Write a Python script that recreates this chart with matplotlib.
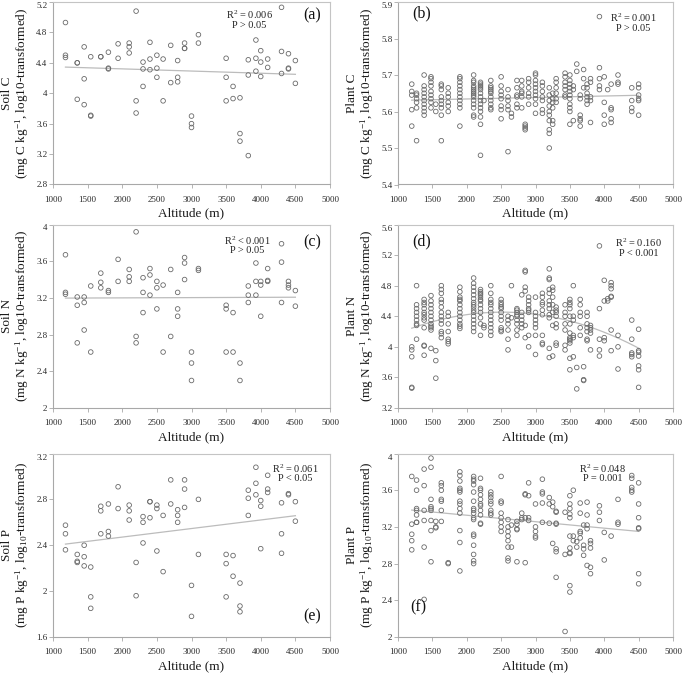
import numpy as np
import matplotlib
matplotlib.use("Agg")
import matplotlib.pyplot as plt
from matplotlib.ticker import FixedLocator, FuncFormatter

plt.rcParams['font.family'] = ['Liberation Serif', 'DejaVu Serif']
plt.rcParams['mathtext.fontset'] = 'custom'
plt.rcParams['mathtext.rm'] = 'Liberation Serif'
plt.rcParams['mathtext.it'] = 'Liberation Serif:italic'
plt.rcParams['mathtext.bf'] = 'Liberation Serif:bold'

# ---------------- data ----------------
alt_ticks = [1000, 1500, 2000, 2500, 3000, 3500, 4000, 4500, 5000]

soil_sites = [1180, 1350, 1450, 1545, 1690, 1800, 1940, 2100, 2200, 2300, 2400, 2500,
              2590, 2700, 2800, 2900, 3000, 3100, 3500, 3600, 3700, 3820, 3930, 4000,
              4100, 4300, 4400, 4500]

soil_c = [[4.93, 4.50, 4.47], [4.40, 4.40, 3.92], [4.61, 4.19, 3.85], [4.48, 3.71, 3.70],
          [4.48, 4.48], [4.54, 4.33, 4.32], [4.65, 4.46], [4.66, 4.61, 4.53],
          [5.08, 3.90, 3.74], [4.41, 4.32, 4.09], [4.67, 4.45, 4.31], [4.50, 4.33, 4.21],
          [4.45, 3.90], [4.63, 4.14], [4.43, 4.21, 4.15], [4.66, 4.59, 4.59],
          [3.70, 3.60, 3.55], [4.77, 4.66], [4.46, 4.21, 3.90], [4.09, 3.93],
          [3.94, 3.47, 3.37], [4.44, 4.24, 3.18], [4.70, 4.46, 4.29], [4.56, 4.41, 4.22],
          [4.45, 4.34], [5.13, 4.55, 4.26], [4.52, 4.33, 4.32], [4.43, 4.13]]

soil_n = [[3.67, 3.26, 3.24], [3.21, 3.12, 2.71], [3.21, 3.15, 2.85], [3.33, 2.61],
          [3.47, 3.37, 3.31], [3.28, 3.26], [3.62, 3.38], [3.51, 3.43, 3.38],
          [3.92, 2.78, 2.71], [3.42, 3.26, 3.04], [3.52, 3.45, 3.23], [3.38, 3.31, 3.08],
          [3.34, 2.61], [3.51, 2.78], [3.26, 3.08, 3.00], [3.64, 3.58, 3.40],
          [2.61, 2.49, 2.30], [3.52, 3.50], [3.12, 3.08, 2.61], [3.04, 2.61],
          [2.49, 2.30], [3.33, 3.23, 3.15], [3.58, 3.38, 3.23], [3.38, 3.34, 3.00],
          [3.52, 3.39, 3.38], [3.79, 3.59, 3.15], [3.38, 3.34, 3.31], [3.28, 3.11]]

soil_p = [[2.575, 2.50, 2.36], [2.32, 2.26, 2.25], [2.40, 2.30, 2.22], [2.21, 1.95, 1.85],
          [2.74, 2.70, 2.50], [2.76, 2.52, 2.48], [2.91, 2.72], [2.75, 2.70, 2.62],
          [2.25, 1.96], [2.65, 2.60, 2.42], [2.78, 2.78, 2.64], [2.75, 2.72, 2.35],
          [2.66, 2.17], [2.97, 2.76], [2.71, 2.66, 2.60], [2.97, 2.89, 2.73],
          [2.05, 1.78], [2.80, 2.32], [2.32, 2.24, 1.95], [2.31, 2.13],
          [2.07, 1.87, 1.82], [2.88, 2.81, 2.66], [3.08, 2.94, 2.84], [2.79, 2.74, 2.37],
          [3.01, 2.89, 2.86], [2.77, 2.50, 2.33], [2.85, 2.84], [2.78, 2.61]]

plant_sites = [1200, 1270, 1380, 1480, 1550, 1630, 1730, 1900, 2100, 2200, 2250, 2350,
               2500, 2600, 2650, 2730, 2800, 2850, 2900, 3000, 3100, 3200, 3250, 3300,
               3430, 3500, 3550, 3600, 3650, 3700, 3750, 3800, 3930, 4000, 4050, 4100,
               4200, 4400, 4500]

plant_c = [
    [5.675, 5.655, 5.645, 5.605, 5.56],
    [5.65, 5.645, 5.635, 5.625, 5.61, 5.52],
    [5.70, 5.67, 5.66, 5.65, 5.64, 5.63, 5.62, 5.61, 5.60, 5.59],
    [5.695, 5.69, 5.68, 5.67, 5.655, 5.645, 5.635, 5.625, 5.61],
    [5.62, 5.60],
    [5.675, 5.67, 5.66, 5.64, 5.63, 5.62, 5.61, 5.59, 5.52],
    [5.665, 5.65, 5.64, 5.625, 5.615, 5.60],
    [5.695, 5.69, 5.68, 5.67, 5.66, 5.65, 5.64, 5.63, 5.62, 5.61, 5.56],
    [5.70, 5.685, 5.68, 5.67, 5.665, 5.66, 5.655, 5.65, 5.645, 5.64, 5.63, 5.62, 5.61, 5.59, 5.585],
    [5.68, 5.675, 5.67, 5.665, 5.66, 5.65, 5.64, 5.63, 5.62, 5.61, 5.60, 5.585, 5.565, 5.48],
    [5.63],
    [5.685, 5.67, 5.665, 5.66, 5.655, 5.65, 5.64, 5.63, 5.62, 5.61, 5.605],
    [5.695, 5.67, 5.655, 5.645, 5.635, 5.615, 5.605, 5.58],
    [5.66, 5.64, 5.63, 5.615, 5.605, 5.49],
    [5.595, 5.585],
    [5.685, 5.665, 5.645, 5.64, 5.62, 5.61],
    [5.685, 5.67, 5.655, 5.65, 5.64, 5.61],
    [5.565, 5.56, 5.555, 5.55],
    [5.69, 5.68, 5.665, 5.65, 5.64, 5.62],
    [5.705, 5.70, 5.685, 5.675, 5.665, 5.655, 5.645, 5.635, 5.62, 5.595],
    [5.68, 5.67, 5.655, 5.64, 5.63, 5.605, 5.595],
    [5.665, 5.645, 5.63, 5.615, 5.60, 5.59, 5.575, 5.55, 5.54, 5.50],
    [5.65, 5.635, 5.625, 5.61, 5.575, 5.565],
    [5.69, 5.68, 5.665, 5.65, 5.635, 5.625],
    [5.705, 5.695, 5.68, 5.67, 5.66, 5.645, 5.64],
    [5.70, 5.685, 5.675, 5.665, 5.655, 5.645, 5.635, 5.62, 5.61, 5.60, 5.565],
    [5.67, 5.66, 5.575],
    [5.73, 5.71],
    [5.645, 5.635, 5.59, 5.58, 5.575, 5.56],
    [5.715, 5.69, 5.665],
    [5.675, 5.665, 5.65, 5.64, 5.63, 5.62],
    [5.69, 5.68, 5.64, 5.63, 5.57],
    [5.86, 5.72, 5.69, 5.67, 5.66],
    [5.695, 5.625, 5.59, 5.565],
    [5.66],
    [5.675, 5.61, 5.605, 5.58, 5.57],
    [5.70, 5.68, 5.675],
    [5.665, 5.63, 5.61, 5.60],
    [5.675, 5.665, 5.645, 5.635, 5.63, 5.59],
]

plant_n = [
    [4.00, 3.96, 3.87, 3.47, 3.46],
    [4.80, 4.55, 4.50, 4.45, 4.40, 4.35, 4.30, 4.28, 4.10],
    [4.62, 4.58, 4.55, 4.50, 4.45, 4.42, 4.38, 4.35, 4.25, 4.02, 4.01, 3.89],
    [4.67, 4.60, 4.55, 4.50, 4.45, 4.40, 4.35, 4.30, 4.27, 4.25, 4.22, 3.98],
    [3.95, 3.82, 3.59],
    [4.80, 4.75, 4.70, 4.62, 4.58, 4.52, 4.45, 4.40, 4.35, 4.30, 4.20, 4.17, 4.12],
    [4.45, 4.40, 4.30, 4.20, 4.10, 4.07, 4.04],
    [4.78, 4.72, 4.65, 4.62, 4.60, 4.55, 4.50, 4.45, 4.40, 4.35, 4.30, 4.27, 4.24],
    [4.90, 4.83, 4.78, 4.73, 4.68, 4.63, 4.58, 4.55, 4.52, 4.48, 4.45, 4.40, 4.35, 4.30, 4.25, 4.20],
    [4.75, 4.72, 4.70, 4.68, 4.65, 4.62, 4.60, 4.55, 4.50, 4.45, 4.38, 4.30, 4.15],
    [4.28, 4.25],
    [4.80, 4.70, 4.62, 4.58, 4.55, 4.50, 4.45, 4.40, 4.35, 4.30, 4.25, 4.20, 4.15],
    [4.62, 4.58, 4.55, 4.52, 4.50, 4.45, 4.40, 4.35, 4.25, 4.22, 4.20],
    [4.40, 4.35, 4.30, 4.22, 4.10, 3.96],
    [4.80, 4.38],
    [4.50, 4.48, 4.45, 4.42, 4.40, 4.35, 4.30, 4.22, 4.15],
    [4.68, 4.45, 4.40, 4.35, 4.30, 4.25],
    [5.00, 4.98, 4.78, 4.73, 4.28, 4.12],
    [4.65, 4.60, 4.55, 4.50, 4.48, 4.45, 4.15, 4.00],
    [4.65, 4.45, 4.40, 4.35, 4.30, 4.25, 4.15, 3.90],
    [4.70, 4.65, 4.58, 4.55, 4.48, 4.42, 4.15, 4.05, 4.03],
    [5.02, 4.90, 4.88, 4.75, 4.70, 4.60, 4.55, 4.50, 4.42, 4.38, 3.98, 3.86],
    [4.78, 4.74, 4.65, 4.55, 4.45, 4.28, 3.88],
    [4.52, 4.48, 4.45, 4.40, 4.30, 4.25, 4.05, 4.02],
    [4.55, 4.45, 4.40, 4.30, 4.22, 4.02, 3.96],
    [4.62, 4.58, 4.55, 4.50, 4.40, 4.30, 4.18, 4.12, 4.10, 4.08, 4.05, 3.85, 3.70],
    [4.80, 4.40, 4.35, 4.15, 4.12, 3.87],
    [3.73, 3.45],
    [4.62, 4.55, 4.45, 4.40, 4.25, 4.15],
    [3.74, 3.57, 3.56],
    [4.45, 4.40, 4.30, 4.25, 4.20, 4.10, 4.08],
    [4.28, 4.25, 4.22, 4.18, 3.96],
    [5.32, 4.50, 4.10, 3.96, 3.88],
    [4.87, 4.60, 4.12, 4.08],
    [4.63, 4.60],
    [4.84, 4.80, 4.76, 4.66, 4.65, 4.22, 3.95],
    [4.15, 4.00, 3.71],
    [4.35, 4.10, 3.92, 3.90, 3.87],
    [4.23, 3.95, 3.93, 3.88, 3.75, 3.70, 3.47],
]

plant_p = [
    [3.75, 3.23, 3.12, 3.05, 2.95],
    [3.71, 3.60, 3.40, 3.38, 3.33, 3.25, 3.25],
    [3.83, 3.65, 3.38, 3.27, 2.98, 2.41],
    [3.95, 3.85, 3.50, 3.42, 3.40, 3.38, 3.27, 3.16, 2.82],
    [3.26, 3.20, 3.19],
    [3.68, 3.65, 3.60, 3.50, 3.48, 3.38, 3.26],
    [2.81, 2.80],
    [3.80, 3.76, 3.70, 3.62, 3.60, 3.58, 3.48, 3.45, 3.40, 3.35, 3.16, 3.03, 2.72],
    [3.75, 3.72, 3.70, 3.66, 3.58, 3.48, 3.40, 3.38, 3.35, 3.30, 3.28, 3.12, 3.10, 3.00, 2.90, 2.83, 2.80],
    [3.73, 3.62, 3.60, 3.55, 3.50, 3.45, 3.43, 3.38, 3.33, 3.24, 3.23],
    [],
    [3.58, 3.55, 3.52, 3.48, 3.45, 3.38, 3.35, 3.33],
    [3.75, 3.48, 3.46, 3.35, 3.30, 3.25, 3.20, 3.15],
    [3.28, 3.20, 3.15, 3.10, 3.05, 2.98, 2.86, 2.83],
    [3.22, 2.98],
    [3.26, 3.23, 3.18, 3.17, 2.82],
    [3.35, 3.30, 3.28],
    [3.56, 3.55, 3.30, 2.81],
    [3.68, 3.54, 3.30, 3.27],
    [3.45, 3.20, 3.15, 3.10, 3.08],
    [3.72, 3.58, 3.56, 3.46, 3.25],
    [3.52, 3.45, 3.24],
    [3.47, 3.42, 3.02],
    [3.37, 3.36, 3.24, 3.23, 2.96, 2.93, 2.65],
    [3.36, 2.90, 2.06],
    [3.54, 3.45, 3.40, 3.34, 3.30, 3.10, 2.97, 2.92, 2.91, 2.56, 2.49],
    [3.60, 3.10, 3.05],
    [3.04, 2.98],
    [3.46, 3.35, 3.15, 3.13, 3.08],
    [3.22, 3.00, 2.96, 2.89],
    [3.47, 3.33, 3.22, 3.18, 2.78],
    [3.05, 3.02, 2.97, 2.76, 2.69],
    [3.43, 3.36, 3.27],
    [3.14, 2.84],
    [],
    [3.10],
    [3.50, 3.25, 3.23],
    [3.76, 3.73, 3.63, 3.60, 3.58],
    [3.68, 3.45, 3.30, 3.19, 3.18, 2.69, 2.58],
]

yticks_a = [2.8, 3.2, 3.6, 4.0, 4.4, 4.8, 5.2]
yticks_b = [5.4, 5.5, 5.6, 5.7, 5.8, 5.9]
yticks_c = [2.0, 2.4, 2.8, 3.2, 3.6, 4.0]
yticks_d = [3.2, 3.6, 4.0, 4.4, 4.8, 5.2, 5.6]
yticks_e = [1.6, 2.0, 2.4, 2.8, 3.2]
yticks_f = [2.0, 2.4, 2.8, 3.2, 3.6, 4.0]

ylabels = [
    "Soil C\n(mg C kg$^{-1}$, log10-transformed)",
    "Plant C\n(mg C kg$^{-1}$, log10-transformed)",
    "Soil N\n(mg N kg$^{-1}$, log10-transformed)",
    "Plant N\n(mg N kg$^{-1}$, log10-transformed)",
    "Soil P\n(mg P kg$^{-1}$, log$_{10}$-transformed)",
    "Plant P\n(mg P kg$^{-1}$, log$_{10}$-transformed)",
]
stats = [
    "R$^2$ = 0.006\nP > 0.05",
    "R$^2$ = 0.001\nP > 0.05",
    "R$^2$ < 0.001\nP > 0.05",
    "R$^2$ = 0.160\nP < 0.001",
    "R$^2$ = 0.061\nP < 0.05",
    "R$^2$ = 0.048\nP = 0.001",
]
letters = ["(a)", "(b)", "(c)", "(d)", "(e)", "(f)"]
fit_degree = [1, 1, 1, 2, 1, 1]

# ---------------- layout ----------------
W, H = 685, 674
fig = plt.figure(figsize=(W / 100, H / 100), dpi=100)
fig.patch.set_facecolor('white')

cols = [(53, 330), (398, 673)]
rows = [(2, 184.5), (224.5, 408), (453.5, 637)]

panels = [
    (soil_sites, soil_c, yticks_a),
    (plant_sites, plant_c, yticks_b),
    (soil_sites, soil_n, yticks_c),
    (plant_sites, plant_n, yticks_d),
    (soil_sites, soil_p, yticks_e),
    (plant_sites, plant_p, yticks_f),
]

stat_pos = [(0.71, 0.905), (0.855, 0.89), (0.70, 0.89), (0.875, 0.875), (0.875, 0.895), (0.745, 0.895)]
letter_pos = [(0.935, 0.925), (0.085, 0.935), (0.935, 0.905), (0.085, 0.91), (0.935, 0.115), (0.075, 0.16)]

GRAY_FRAME = '#c4c4c4'
GRAY_AXIS = '#a8a8a8'

def fmt(v, p):
    return f"{round(v, 3):g}"

for i, (sites, vals, yt) in enumerate(panels):
    c = cols[i % 2]
    r = rows[i // 2]
    ax = fig.add_axes([c[0] / W, 1 - r[1] / H, (c[1] - c[0]) / W, (r[1] - r[0]) / H])
    xs = np.concatenate([[s] * len(v) for s, v in zip(sites, vals)]).astype(float)
    ys = np.concatenate([v for v in vals]).astype(float)
    ax.scatter(xs, ys, s=11, facecolors='none', edgecolors='#6a6a6a', linewidths=0.6, zorder=3)
    coef = np.polyfit(xs, ys, fit_degree[i])
    xf = np.linspace(xs.min(), xs.max(), 200)
    ax.plot(xf, np.polyval(coef, xf), color='#bcbcbc', lw=0.9, zorder=2)

    ax.set_xlim(alt_ticks[0], alt_ticks[-1])
    ax.set_ylim(yt[0], yt[-1])
    ax.xaxis.set_major_locator(FixedLocator(alt_ticks))
    ax.yaxis.set_major_locator(FixedLocator(yt))
    ax.yaxis.set_major_formatter(FuncFormatter(fmt))
    for side in ['top', 'right']:
        ax.spines[side].set_color(GRAY_FRAME)
        ax.spines[side].set_linewidth(0.8)
    for side in ['left', 'bottom']:
        ax.spines[side].set_color(GRAY_AXIS)
        ax.spines[side].set_linewidth(0.8)
    ax.tick_params(axis='both', direction='out', length=3, width=0.6, color=GRAY_AXIS,
                   labelsize=6.5, labelcolor='#2a2a2a')
    ax.tick_params(axis='x', pad=5)
    ax.tick_params(axis='y', pad=1)
    # keep the top value label inside the panel, as in the original
    yticks_objs = ax.yaxis.get_major_ticks(len(yt))
    yticks_objs[-1].label1.set_verticalalignment('top')
    ax.set_xlabel("Altitude (m)", fontsize=9.5, color='#1a1a1a', labelpad=3)
    ax.set_ylabel(ylabels[i], fontsize=9.5, color='#1a1a1a', labelpad=4, linespacing=1.0)
    ax.text(stat_pos[i][0], stat_pos[i][1], stats[i], transform=ax.transAxes, ha='center',
            va='center', fontsize=7.5, color='#222222', linespacing=0.95)
    ax.text(letter_pos[i][0], letter_pos[i][1], letters[i], transform=ax.transAxes, ha='center',
            va='center', fontsize=11.5, color='#111111')
    ax.set_facecolor('white')

fig.savefig("out.png", dpi=100)
